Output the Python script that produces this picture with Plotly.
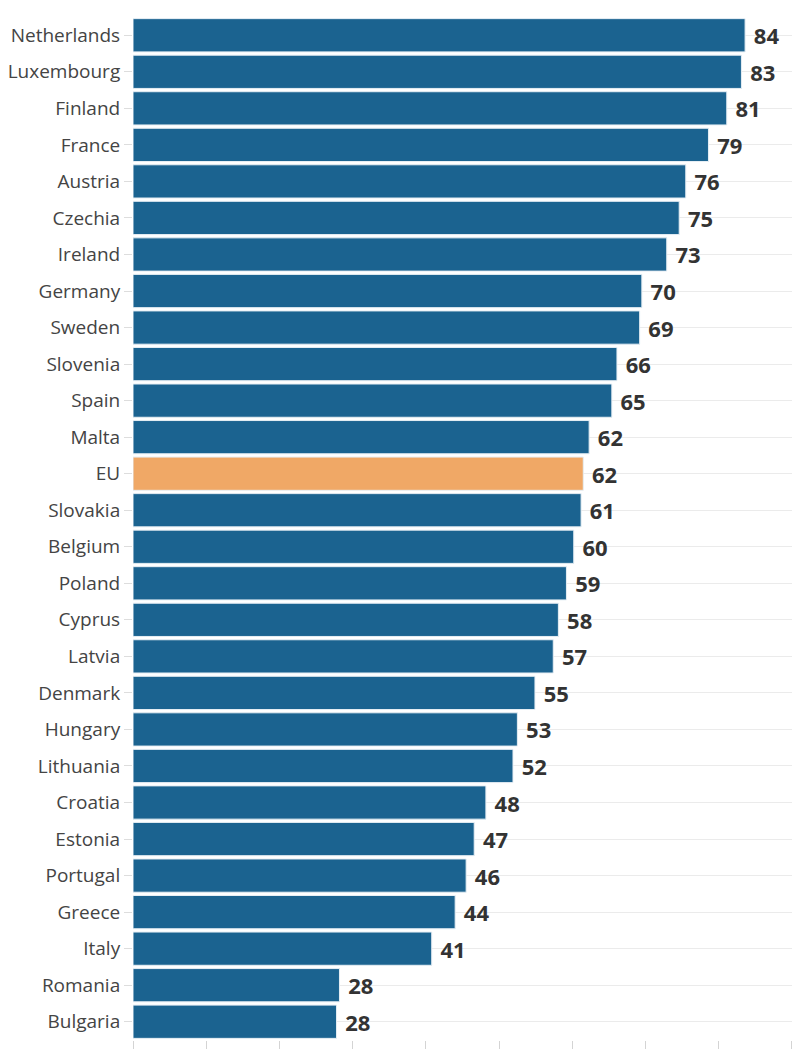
import plotly.graph_objects as go

countries = ["Netherlands", "Luxembourg", "Finland", "France", "Austria", "Czechia", "Ireland",
             "Germany", "Sweden", "Slovenia", "Spain", "Malta", "EU", "Slovakia", "Belgium",
             "Poland", "Cyprus", "Latvia", "Denmark", "Hungary", "Lithuania", "Croatia",
             "Estonia", "Portugal", "Greece", "Italy", "Romania", "Bulgaria"]
values = [83.6, 83.1, 81.1, 78.6, 75.5, 74.6, 72.9, 69.5, 69.2, 66.1, 65.4, 62.3, 61.5, 61.2,
          60.2, 59.2, 58.1, 57.4, 54.9, 52.5, 51.9, 48.2, 46.6, 45.5, 44.0, 40.8, 28.2, 27.8]
labels = ["84", "83", "81", "79", "76", "75", "73", "70", "69", "66", "65", "62", "62", "61",
          "60", "59", "58", "57", "55", "53", "52", "48", "47", "46", "44", "41", "28", "28"]

blue = "#1b6390"
orange = "#f0a866"
colors = [orange if c == "EU" else blue for c in countries]

fig = go.Figure(go.Bar(
    x=values, y=countries, orientation="h",
    marker=dict(color=colors, line=dict(color="#e6eef4", width=1)),
    text=labels, texttemplate=" %{text}", textposition="outside", cliponaxis=False,
    textfont=dict(family="Open Sans", size=22, color="#333333", weight="bold"),
    hoverinfo="skip",
))

fig.update_layout(
    width=792, height=1041,
    margin=dict(l=125, r=0, t=9, b=9, autoexpand=False),
    paper_bgcolor="white", plot_bgcolor="white",
    bargap=0.09,
    showlegend=False,
    font=dict(family="Open Sans"),
)
fig.update_xaxes(
    range=[0, 91.1], dtick=10, tick0=0, showticklabels=False,
    ticks="outside", ticklen=9, tickcolor="#d4d4d4", tickwidth=1,
    showgrid=False, zeroline=False, showline=False, fixedrange=True,
    automargin=False,
)
fig.update_yaxes(
    categoryorder="array", categoryarray=countries, autorange="reversed",
    ticks="outside", ticklen=8, tickcolor="#dddddd", tickwidth=1,
    showgrid=True, gridcolor="#ebebeb", gridwidth=1,
    tickfont=dict(family="Open Sans", size=19, color="#444444"),
    showline=False, zeroline=False, automargin=False,
)

fig.write_html("out.html")
